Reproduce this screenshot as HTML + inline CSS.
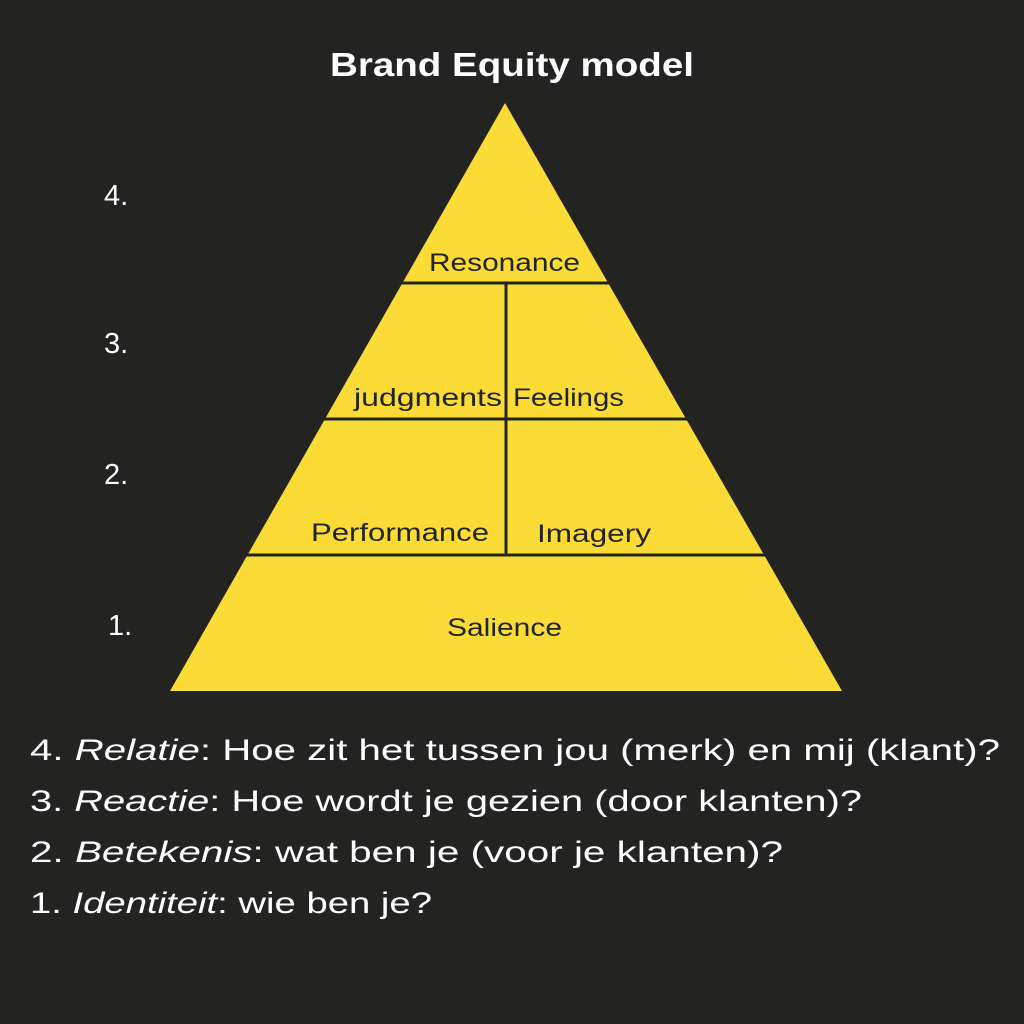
<!DOCTYPE html>
<html><head><style>
html,body{margin:0;padding:0;background:#232422;}
</style></head><body>
<svg width="1024" height="1024" viewBox="0 0 1024 1024" xmlns="http://www.w3.org/2000/svg" style="display:block">
<rect width="1024" height="1024" fill="#232422"/>
<text x="330" y="76" textLength="364" lengthAdjust="spacingAndGlyphs" font-family="Liberation Sans, sans-serif" font-weight="bold" font-size="33" fill="#fff">Brand Equity model</text>
<polygon points="505,103 842,691 170,691" fill="#FBDC36"/>
<g stroke="#232422" stroke-width="3">
<line x1="400" y1="283" x2="610" y2="283"/>
<line x1="323" y1="419" x2="688" y2="419"/>
<line x1="245" y1="555" x2="766" y2="555"/>
<line x1="506" y1="283" x2="506" y2="555"/>
</g>
<g font-family="Liberation Sans, sans-serif" font-size="25" fill="#232422" lengthAdjust="spacingAndGlyphs">
<text x="429" y="271" textLength="151" lengthAdjust="spacingAndGlyphs">Resonance</text>
<text x="354" y="406" textLength="148" lengthAdjust="spacingAndGlyphs">judgments</text>
<text x="513" y="406" textLength="111" lengthAdjust="spacingAndGlyphs">Feelings</text>
<text x="311" y="541" textLength="178" lengthAdjust="spacingAndGlyphs">Performance</text>
<text x="537" y="542" textLength="114" lengthAdjust="spacingAndGlyphs">Imagery</text>
<text x="447" y="636" textLength="115" lengthAdjust="spacingAndGlyphs">Salience</text>
</g>
<g font-family="Liberation Sans, sans-serif" font-size="29" fill="#fff">
<text x="104" y="205">4.</text>
<text x="104" y="353">3.</text>
<text x="104" y="484">2.</text>
<text x="108" y="635">1.</text>
</g>
<g font-family="Liberation Sans, sans-serif" font-size="30" fill="#fff">
<text x="30" y="760" textLength="970" lengthAdjust="spacingAndGlyphs">4. <tspan font-style="italic">Relatie</tspan>: Hoe zit het tussen jou (merk) en mij (klant)?</text>
<text x="30" y="811" textLength="832" lengthAdjust="spacingAndGlyphs">3. <tspan font-style="italic">Reactie</tspan>: Hoe wordt je gezien (door klanten)?</text>
<text x="30" y="862" textLength="753" lengthAdjust="spacingAndGlyphs">2. <tspan font-style="italic">Betekenis</tspan>: wat ben je (voor je klanten)?</text>
<text x="30" y="913" textLength="402" lengthAdjust="spacingAndGlyphs">1. <tspan font-style="italic">Identiteit</tspan>: wie ben je?</text>
</g>
</svg>
</body></html>
